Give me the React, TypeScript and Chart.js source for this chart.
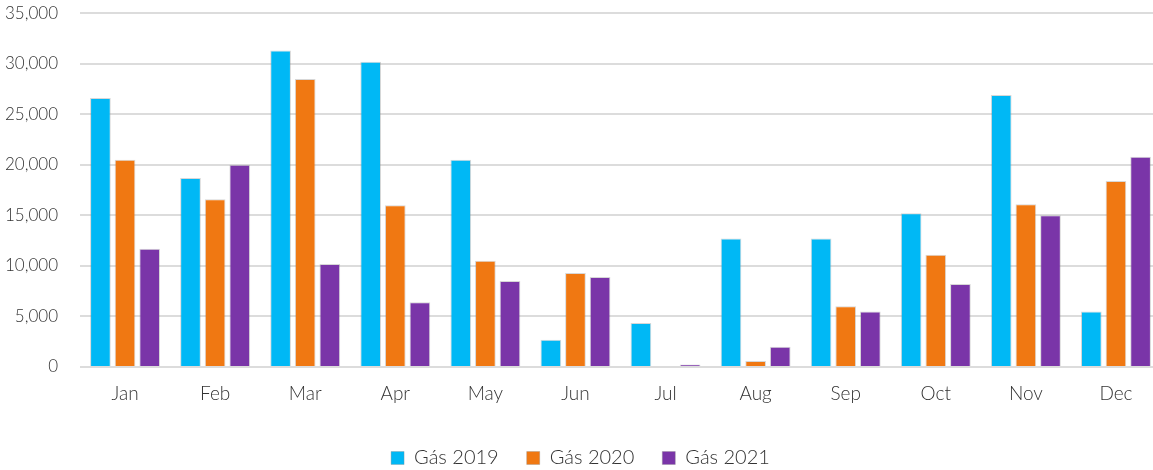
import React, { useEffect, useRef } from "react";
import { Chart, registerables } from "chart.js";

Chart.register(...registerables);

const months = ["Jan", "Feb", "Mar", "Apr", "May", "Jun", "Jul", "Aug", "Sep", "Oct", "Nov", "Dec"];
const gas2019 = [26600, 18700, 31300, 30200, 20500, 2700, 4350, 12700, 12700, 15200, 26900, 5500];
const gas2020 = [20500, 16600, 28500, 16000, 10500, 9300, 0, 600, 6000, 11100, 16100, 18400];
const gas2021 = [11700, 20000, 10200, 6400, 8500, 8900, 250, 2000, 5500, 8200, 15000, 20800];
const seriesLabels = ["Gás 2019", "Gás 2020", "Gás 2021"];
const seriesColors = ["#00b8f5", "#f07812", "#7a35a8"];

export default function App() {
  const ref = useRef<HTMLCanvasElement | null>(null);
  useEffect(() => {
    document.body.style.overflow = "hidden";
    const ctx = ref.current!;
    const font = "Lato, 'Open Sans', sans-serif";
    const chart = new Chart(ctx, {
      type: "bar",
      data: {
        labels: months,
        datasets: [gas2019, gas2020, gas2021].map((d, i) => ({
          label: seriesLabels[i],
          data: d,
          backgroundColor: seriesColors[i],
          borderColor: "rgba(140,140,140,0.35)",
          borderWidth: 1,
          categoryPercentage: 0.82,
          barPercentage: 0.84,
        })),
      },
      options: {
        animation: false,
        responsive: false,
        maintainAspectRatio: false,
        layout: { padding: { top: 0, left: 0, right: 0, bottom: 0 } },
        plugins: {
          tooltip: { enabled: false },
          legend: {
            position: "bottom",
            labels: {
              boxWidth: 13,
              boxHeight: 13,
              padding: 28,
              color: "#333333",
              font: { family: font, size: 20, weight: 300 },
            },
          },
        },
        scales: {
          x: {
            grid: { display: false, drawTicks: false },
            border: { display: false },
            ticks: { color: "#333333", padding: 15, font: { family: font, size: 19, weight: 300 } },
            afterFit: (s: any) => {
              s.height = 53;
            },
          },
          y: {
            min: 0,
            max: 35000,
            grid: { color: "#dcdcdc", lineWidth: 2, drawTicks: true, tickLength: 19, tickColor: "rgba(0,0,0,0)" },
            border: { display: false },
            ticks: {
              stepSize: 5000,
              padding: 3,
              color: "#333333",
              font: { family: font, size: 17, weight: 300 },
              callback: (v: any) => Number(v).toLocaleString("en-US"),
            },
            afterFit: (s: any) => {
              s.width = 80;
            },
          },
        },
      },
    });
    return () => chart.destroy();
  }, []);
  return (
    <div style={{ position: "fixed", left: 0, top: 0, width: 1161, height: 478 }}>
      <canvas ref={ref} width={1161} height={478} style={{ width: 1161, height: 478, display: "block" }} />
    </div>
  );
}
